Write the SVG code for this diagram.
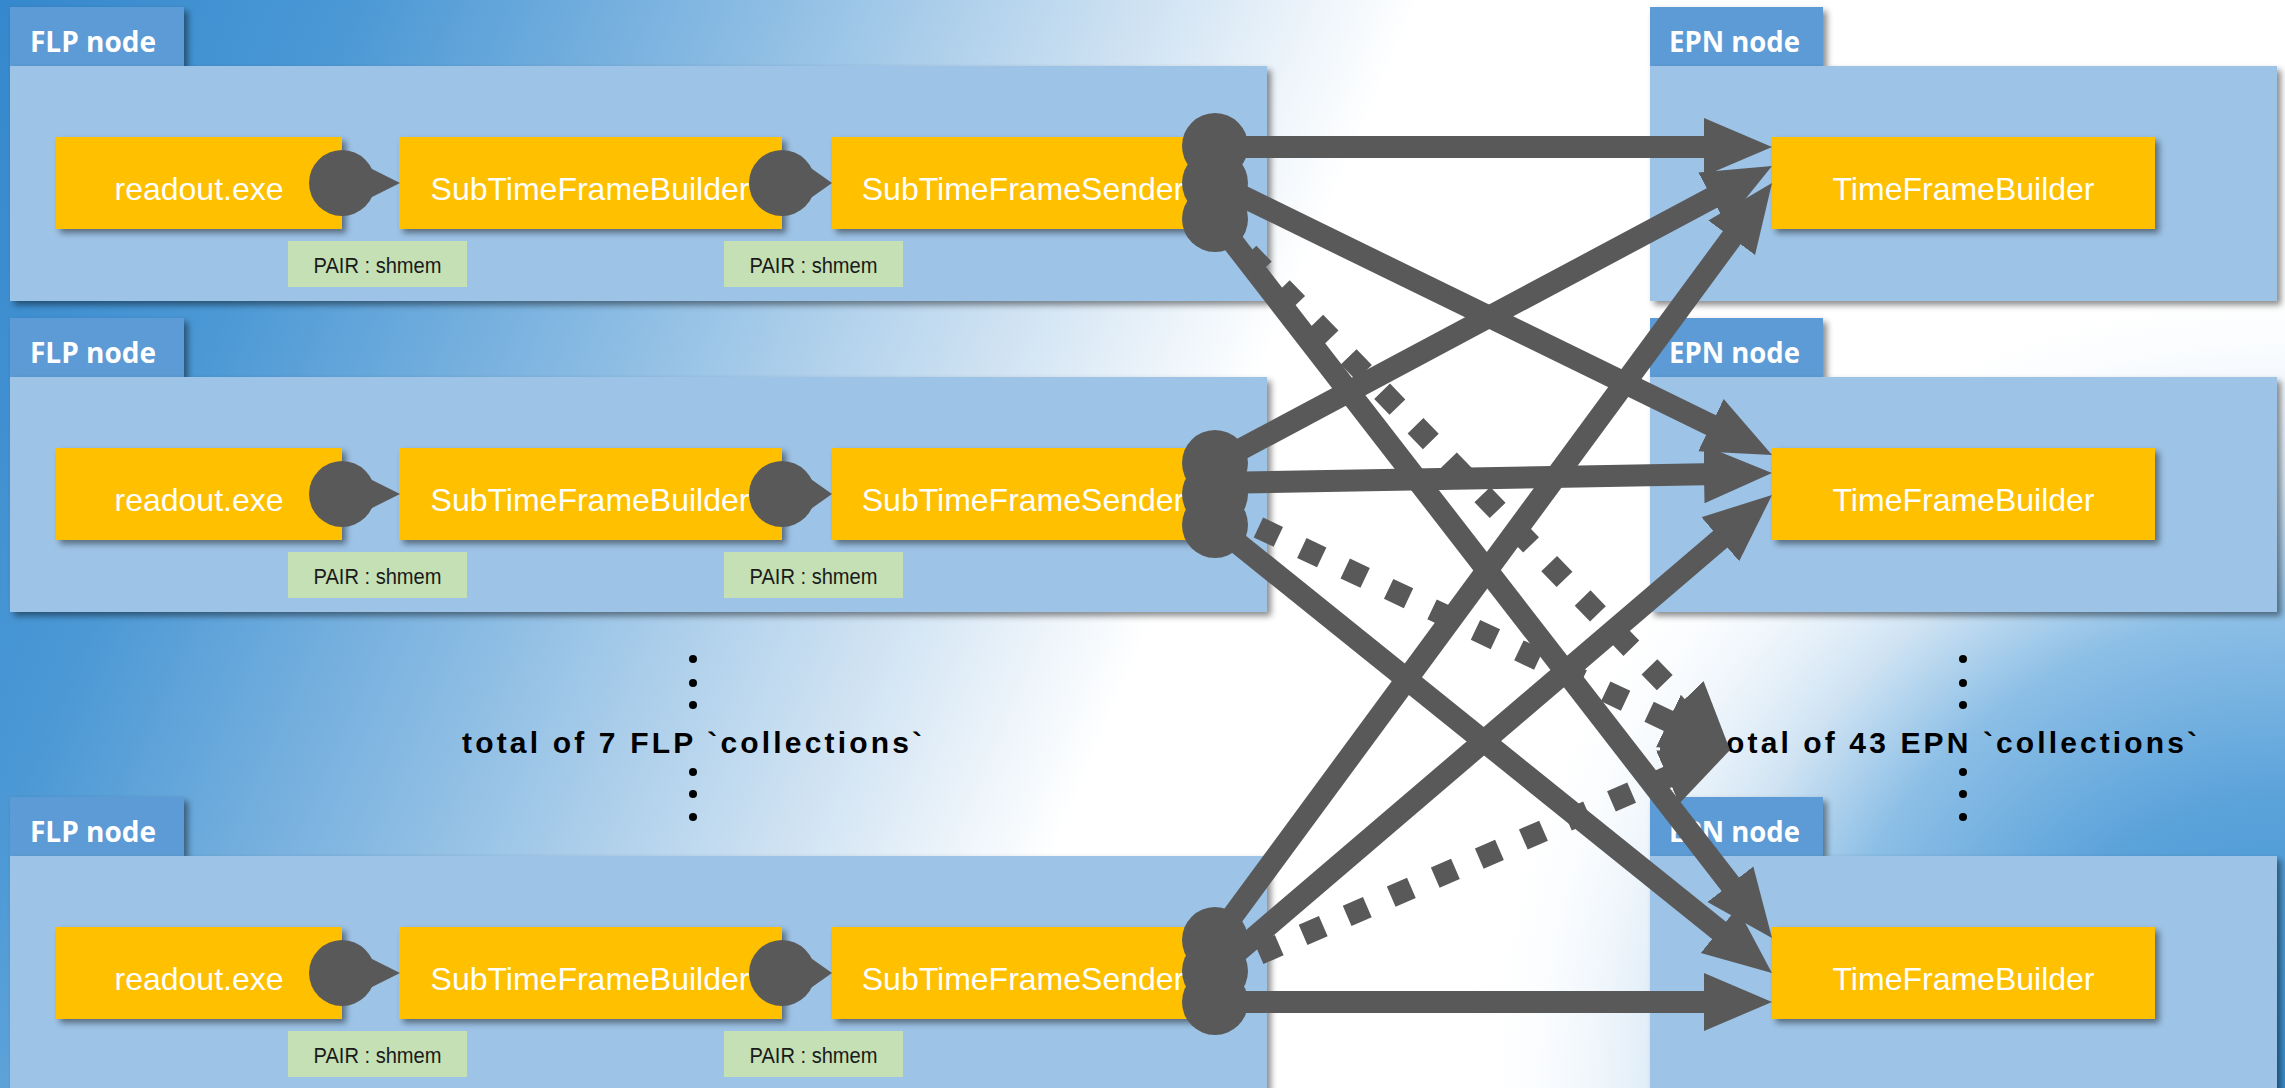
<svg xmlns="http://www.w3.org/2000/svg" width="2285" height="1088" viewBox="0 0 2285 1088">
<defs>
<linearGradient id="bgL" gradientUnits="userSpaceOnUse" x1="0" y1="0" x2="1200" y2="515">
<stop offset="0" stop-color="#3588cd"/>
<stop offset="0.25" stop-color="#4b98d5"/>
<stop offset="0.55" stop-color="#8fbee4"/>
<stop offset="0.8" stop-color="#cde1f2"/>
<stop offset="1" stop-color="#ffffff"/>
</linearGradient>
<radialGradient id="bgR" gradientUnits="userSpaceOnUse" cx="2285" cy="1088" r="820">
<stop offset="0" stop-color="#3a8ed0" stop-opacity="1"/>
<stop offset="0.35" stop-color="#5aa2da" stop-opacity="1"/>
<stop offset="0.58" stop-color="#8dbfe6" stop-opacity="1"/>
<stop offset="0.72" stop-color="#cfe3f3" stop-opacity="1"/>
<stop offset="0.9" stop-color="#f3f8fd" stop-opacity="0.5"/>
<stop offset="1" stop-color="#ffffff" stop-opacity="0"/>
</radialGradient>
<filter id="sh" x="-5%" y="-5%" width="115%" height="125%">
<feDropShadow dx="4" dy="4" stdDeviation="3" flood-color="#000" flood-opacity="0.45"/>
</filter>
<marker id="ah" markerUnits="userSpaceOnUse" markerWidth="70" markerHeight="60" viewBox="0 -30 70 60" refX="28" refY="0" orient="auto">
<path d="M0,-29 L68,0 L0,29 Z" fill="#595959"/>
</marker>
<style>
.tab{fill:#5B9BD5;filter:url(#sh)}
.panel{fill:#9DC3E6;filter:url(#sh)}
.proc{fill:#FFC000;filter:url(#sh)}
.pair{fill:#C5E0B4}
.tabt{font-family:"Open Sans","Liberation Sans",sans-serif;font-weight:bold;font-size:28px;fill:#fff}
.proct{font-family:"Liberation Sans",Arial,sans-serif;font-size:32px;fill:#fff;text-anchor:middle}
.pairt{font-family:"Liberation Sans",Arial,sans-serif;font-size:22px;fill:#1a1a1a;text-anchor:middle}
.port{fill:#595959}
.conn{stroke:#595959;stroke-width:22;fill:none;marker-end:url(#ah)}
.dash{stroke-dasharray:22 26}
.big{font-family:"Liberation Sans",Arial,sans-serif;font-weight:bold;font-size:30px;fill:#000}
.dot{fill:#000}
</style>
</defs>

<g id="background">
<rect x="0" y="0" width="2285" height="1088" fill="url(#bgL)"/>
<rect x="0" y="0" width="2285" height="1088" fill="url(#bgR)"/>
</g>

<g id="flp1">
<rect class="tab" x="10" y="7" width="174" height="59"/>
<text class="tabt" x="30" y="52" textLength="126" lengthAdjust="spacingAndGlyphs">FLP node</text>
<rect class="panel" x="10" y="66" width="1257" height="235"/>
<rect class="proc" x="56" y="137" width="286" height="92"/>
<text class="proct" x="199" y="200">readout.exe</text>
<rect class="proc" x="399" y="137" width="383" height="92"/>
<text class="proct" x="590" y="200">SubTimeFrameBuilder</text>
<rect class="proc" x="832" y="137" width="383" height="92"/>
<text class="proct" x="1023" y="200">SubTimeFrameSender</text>
<rect class="pair" x="288" y="241" width="179" height="46"/>
<text class="pairt" x="377.5" y="273" textLength="128" lengthAdjust="spacingAndGlyphs">PAIR : shmem</text>
<rect class="pair" x="724" y="241" width="179" height="46"/>
<text class="pairt" x="813.5" y="273" textLength="128" lengthAdjust="spacingAndGlyphs">PAIR : shmem</text>
</g>

<g id="flp2">
<rect class="tab" x="10" y="318" width="174" height="59"/>
<text class="tabt" x="30" y="363" textLength="126" lengthAdjust="spacingAndGlyphs">FLP node</text>
<rect class="panel" x="10" y="377" width="1257" height="235"/>
<rect class="proc" x="56" y="448" width="286" height="92"/>
<text class="proct" x="199" y="511">readout.exe</text>
<rect class="proc" x="399" y="448" width="383" height="92"/>
<text class="proct" x="590" y="511">SubTimeFrameBuilder</text>
<rect class="proc" x="832" y="448" width="383" height="92"/>
<text class="proct" x="1023" y="511">SubTimeFrameSender</text>
<rect class="pair" x="288" y="552" width="179" height="46"/>
<text class="pairt" x="377.5" y="584" textLength="128" lengthAdjust="spacingAndGlyphs">PAIR : shmem</text>
<rect class="pair" x="724" y="552" width="179" height="46"/>
<text class="pairt" x="813.5" y="584" textLength="128" lengthAdjust="spacingAndGlyphs">PAIR : shmem</text>
</g>

<g id="flp3">
<rect class="tab" x="10" y="797" width="174" height="59"/>
<text class="tabt" x="30" y="842" textLength="126" lengthAdjust="spacingAndGlyphs">FLP node</text>
<rect class="panel" x="10" y="856" width="1257" height="240"/>
<rect class="proc" x="56" y="927" width="286" height="92"/>
<text class="proct" x="199" y="990">readout.exe</text>
<rect class="proc" x="399" y="927" width="383" height="92"/>
<text class="proct" x="590" y="990">SubTimeFrameBuilder</text>
<rect class="proc" x="832" y="927" width="383" height="92"/>
<text class="proct" x="1023" y="990">SubTimeFrameSender</text>
<rect class="pair" x="288" y="1031" width="179" height="46"/>
<text class="pairt" x="377.5" y="1063" textLength="128" lengthAdjust="spacingAndGlyphs">PAIR : shmem</text>
<rect class="pair" x="724" y="1031" width="179" height="46"/>
<text class="pairt" x="813.5" y="1063" textLength="128" lengthAdjust="spacingAndGlyphs">PAIR : shmem</text>
</g>

<g id="epn1">
<rect class="tab" x="1650" y="7" width="173" height="59"/>
<text class="tabt" x="1669" y="52" textLength="131" lengthAdjust="spacingAndGlyphs">EPN node</text>
<rect class="panel" x="1650" y="66" width="627" height="235"/>
<rect class="proc" x="1772" y="137" width="383" height="92"/>
<text class="proct" x="1963.5" y="200">TimeFrameBuilder</text>
</g>

<g id="epn2">
<rect class="tab" x="1650" y="318" width="173" height="59"/>
<text class="tabt" x="1669" y="363" textLength="131" lengthAdjust="spacingAndGlyphs">EPN node</text>
<rect class="panel" x="1650" y="377" width="627" height="235"/>
<rect class="proc" x="1772" y="448" width="383" height="92"/>
<text class="proct" x="1963.5" y="511">TimeFrameBuilder</text>
</g>

<g id="epn3">
<rect class="tab" x="1650" y="797" width="173" height="59"/>
<text class="tabt" x="1669" y="842" textLength="131" lengthAdjust="spacingAndGlyphs">EPN node</text>
<rect class="panel" x="1650" y="856" width="627" height="240"/>
<rect class="proc" x="1772" y="927" width="383" height="92"/>
<text class="proct" x="1963.5" y="990">TimeFrameBuilder</text>
</g>

<g id="labels">
<text class="big" x="462" y="753" textLength="460" lengthAdjust="spacing">total of 7 FLP `collections`</text>
<circle class="dot" cx="693" cy="659" r="4"/>
<circle class="dot" cx="693" cy="683" r="4"/>
<circle class="dot" cx="693" cy="705" r="4"/>
<circle class="dot" cx="693" cy="772" r="4"/>
<circle class="dot" cx="693" cy="794" r="4"/>
<circle class="dot" cx="693" cy="817" r="4"/>
<text class="big" x="1713" y="753" textLength="484" lengthAdjust="spacing">total of 43 EPN `collections`</text>
<circle class="dot" cx="1963" cy="659" r="4"/>
<circle class="dot" cx="1963" cy="683" r="4"/>
<circle class="dot" cx="1963" cy="705" r="4"/>
<circle class="dot" cx="1963" cy="772" r="4"/>
<circle class="dot" cx="1963" cy="794" r="4"/>
<circle class="dot" cx="1963" cy="817" r="4"/>
</g>

<g id="connectors">
<!-- local PAIR connections -->
<circle class="port" cx="342" cy="183" r="33"/><polygon class="port" points="360,163 400,183 360,203"/>
<circle class="port" cx="782" cy="183" r="33"/><polygon class="port" points="798,159 832,183 798,207"/>
<circle class="port" cx="342" cy="494" r="33"/><polygon class="port" points="360,474 400,494 360,514"/>
<circle class="port" cx="782" cy="494" r="33"/><polygon class="port" points="798,470 832,494 798,518"/>
<circle class="port" cx="342" cy="973" r="33"/><polygon class="port" points="360,953 400,973 360,993"/>
<circle class="port" cx="782" cy="973" r="33"/><polygon class="port" points="798,949 832,973 798,997"/>

<!-- FLP1 -> EPNs -->
<line class="conn" x1="1215" y1="147" x2="1732" y2="147"/>
<line class="conn" x1="1215" y1="183" x2="1736.1" y2="437.4"/>
<line class="conn" x1="1215" y1="219" x2="1747.5" y2="906.4"/>
<line class="conn dash" x1="1215" y1="219" x2="1702.2" y2="721.3"/>
<!-- FLP2 -> EPNs -->
<line class="conn" x1="1215" y1="463" x2="1736.7" y2="184.8"/>
<line class="conn" x1="1215" y1="483" x2="1732" y2="473.7"/>
<line class="conn" x1="1215" y1="525" x2="1740.8" y2="947.9"/>
<line class="conn dash" x1="1215" y1="507" x2="1693.8" y2="732.9"/>
<!-- FLP3 -> EPNs -->
<line class="conn" x1="1215" y1="940" x2="1748.3" y2="215.2"/>
<line class="conn" x1="1215" y1="971" x2="1741.6" y2="521"/>
<line class="conn" x1="1215" y1="1002" x2="1732" y2="1002"/>
<line class="conn dash" x1="1215" y1="973" x2="1693.3" y2="765.9"/>
<polygon class="port" points="1730,750 1660,738 1660,760"/>

<!-- sender output ports -->
<circle class="port" cx="1215" cy="146" r="33"/>
<circle class="port" cx="1215" cy="183" r="33"/>
<circle class="port" cx="1215" cy="219" r="33"/>
<circle class="port" cx="1215" cy="463" r="33"/>
<circle class="port" cx="1215" cy="494" r="33"/>
<circle class="port" cx="1215" cy="525" r="33"/>
<circle class="port" cx="1215" cy="940" r="33"/>
<circle class="port" cx="1215" cy="971" r="33"/>
<circle class="port" cx="1215" cy="1002" r="33"/>
</g>
</svg>
